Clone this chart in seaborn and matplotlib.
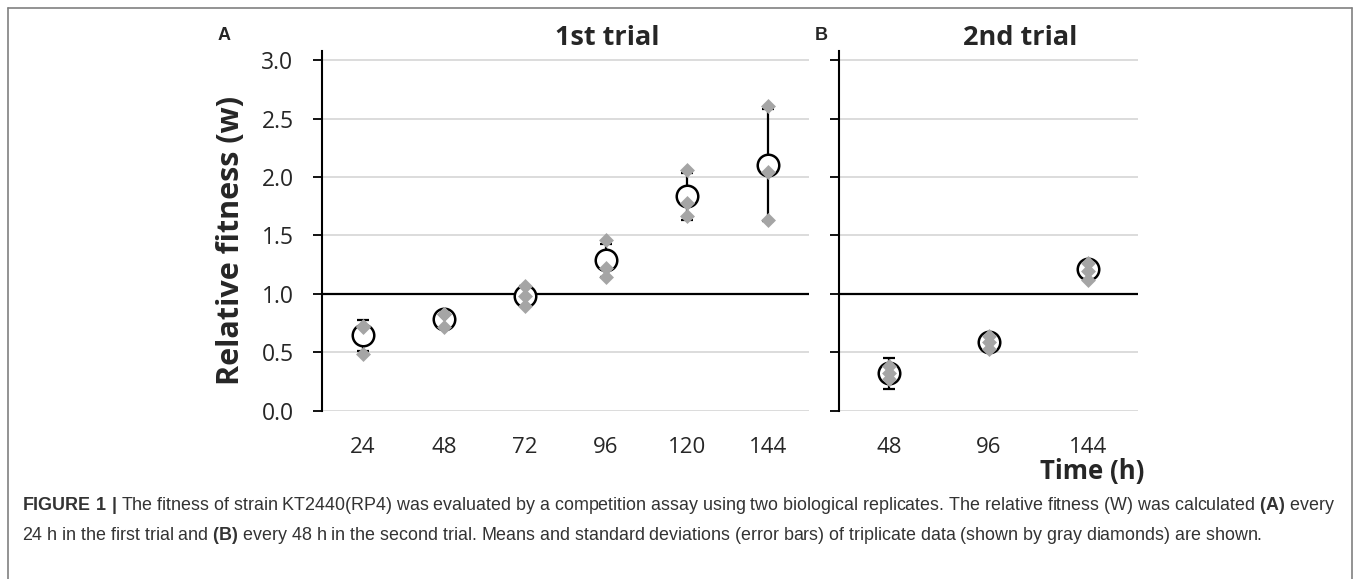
import numpy as np
import pandas as pd
import matplotlib
matplotlib.use("Agg")
import matplotlib.pyplot as plt
import seaborn as sns

# ---------------- data ----------------
hours_a = [24, 48, 72, 96, 120, 144]
rep_a = [
    [0.714, 0.727, 0.488],
    [0.823, 0.827, 0.714],
    [1.065, 0.980, 0.894],
    [1.460, 1.220, 1.146],
    [2.065, 1.780, 1.670],
    [2.610, 2.040, 1.630],
]
mean_a = [0.643, 0.788, 0.985, 1.288, 1.836, 2.100]
sd_a = [0.134, 0.060, 0.085, 0.140, 0.200, 0.480]

hours_b = [48, 96, 144]
rep_b = [
    [0.380, 0.320, 0.267],
    [0.638, 0.590, 0.524],
    [1.267, 1.195, 1.115],
]
mean_b = [0.320, 0.584, 1.215]
sd_b = [0.133, 0.050, 0.070]

yticks = [0.0, 0.5, 1.0, 1.5, 2.0, 2.5, 3.0]

# ---------------- style ----------------
sns.set_theme(style="white")
plt.rcParams["font.family"] = ["Open Sans", "DejaVu Sans"]
plt.rcParams["mathtext.fontset"] = "custom"
plt.rcParams["mathtext.rm"] = "Liberation Sans"
plt.rcParams["mathtext.bf"] = "Liberation Sans:bold"

W, H = 1358, 579
fig = plt.figure(figsize=(W / 100, H / 100), dpi=100)

def px_axes(left, right, y0, ytop):
    return fig.add_axes([left / W, (H - y0) / H, (right - left) / W, (y0 - ytop) / H])

ppu = 116.7
ytop_val = 3.08
axA = px_axes(322, 809, 410.5, 410.5 - ppu * ytop_val)
axB = px_axes(839, 1138, 410.5, 410.5 - ppu * ytop_val)

diamond_col = "#a5a5a5"

def draw(ax, hours, reps, means, sds, show_labels):
    df = pd.DataFrame({
        "time": np.repeat(hours, 3),
        "w": np.concatenate([np.array(r) for r in reps]),
    })
    ax.set_ylim(0, ytop_val)
    step = hours[1] - hours[0]
    ax.set_xlim(hours[0] - step / 2, hours[-1] + step / 2)
    ax.set_yticks(yticks)
    ax.yaxis.grid(True, color="#d9d9d9", lw=1.3, zorder=0)
    ax.xaxis.grid(False)
    ax.set_axisbelow(True)
    ax.axhline(1.0, color="black", lw=1.6, zorder=2)
    ax.errorbar(hours, means, yerr=sds, fmt="none", ecolor="black",
                elinewidth=1.6, capsize=4, capthick=1.6, zorder=3)
    sns.scatterplot(x=hours, y=means, ax=ax, marker="o", s=15.5 ** 2,
                    facecolor="white", edgecolor="black", linewidth=1.8,
                    zorder=4, legend=False)
    sns.scatterplot(data=df, x="time", y="w", ax=ax, marker="D", s=58,
                    color=diamond_col, edgecolor=diamond_col, linewidth=0,
                    zorder=5, legend=False)
    ax.set_xticks(hours)
    ax.set_xticklabels([str(h) for h in hours], fontsize=16)
    ax.tick_params(axis="x", length=0, pad=19)
    ax.tick_params(axis="y", direction="out", length=6.5, width=1.3,
                   color="black", left=True, pad=14, labelsize=16.5)
    if show_labels:
        ax.set_yticklabels([f"{v:.1f}" for v in yticks])
    else:
        ax.set_yticklabels([])
    for s in ["top", "right", "bottom"]:
        ax.spines[s].set_visible(False)
    ax.spines["left"].set_color("black")
    ax.spines["left"].set_linewidth(1.5)
    ax.set_xlabel("")
    ax.set_ylabel("")

draw(axA, hours_a, rep_a, mean_a, sd_a, True)
draw(axB, hours_b, rep_b, mean_b, sd_b, False)

# texts
fig.text(231 / W, (H - 240) / H, "Relative fitness (w)", rotation=90,
         ha="center", va="center", fontsize=22, fontweight="bold")
fig.text(607 / W, (H - 38) / H, "1st trial", ha="center", va="center",
         fontsize=19.5, fontweight="bold")
fig.text(1020 / W, (H - 38) / H, "2nd trial", ha="center", va="center",
         fontsize=19.5, fontweight="bold")
fig.text(218 / W, (H - 35) / H, "A", ha="left", va="center",
         fontsize=13, fontweight="bold", family="Liberation Sans")
fig.text(815 / W, (H - 35) / H, "B", ha="left", va="center",
         fontsize=13, fontweight="bold", family="Liberation Sans")
fig.text(1092 / W, (H - 471) / H, "Time (h)", ha="center", va="center",
         fontsize=18.5, fontweight="bold")

cap1 = (r"$\bf{FIGURE\ 1\ |}$ The fitness of strain KT2440(RP4) was evaluated by a competition "
        r"assay using two biological replicates. The relative fitness (W) was calculated "
        r"$\bf{(A)}$ every")
cap2 = (r"24 h in the first trial and $\bf{(B)}$ every 48 h in the second trial. Means and "
        r"standard deviations (error bars) of triplicate data (shown by gray diamonds) are shown.")
fig.text(22 / W, (H - 506) / H, cap1, ha="left", va="center", fontsize=12.9,
         family="Liberation Sans", color="#333333")
fig.text(22 / W, (H - 535) / H, cap2, ha="left", va="center", fontsize=12.9,
         family="Liberation Sans", color="#333333")

# frame (top, left, right)
frame_col = "#808080"
fig.add_artist(plt.Line2D([8 / W, 1352 / W], [(H - 8) / H, (H - 8) / H],
                          transform=fig.transFigure, color=frame_col, lw=1.2))
fig.add_artist(plt.Line2D([8 / W, 8 / W], [(H - 8) / H, 0],
                          transform=fig.transFigure, color=frame_col, lw=1.2))
fig.add_artist(plt.Line2D([1352 / W, 1352 / W], [(H - 8) / H, 0],
                          transform=fig.transFigure, color=frame_col, lw=1.2))

fig.savefig("out.png", dpi=100)
